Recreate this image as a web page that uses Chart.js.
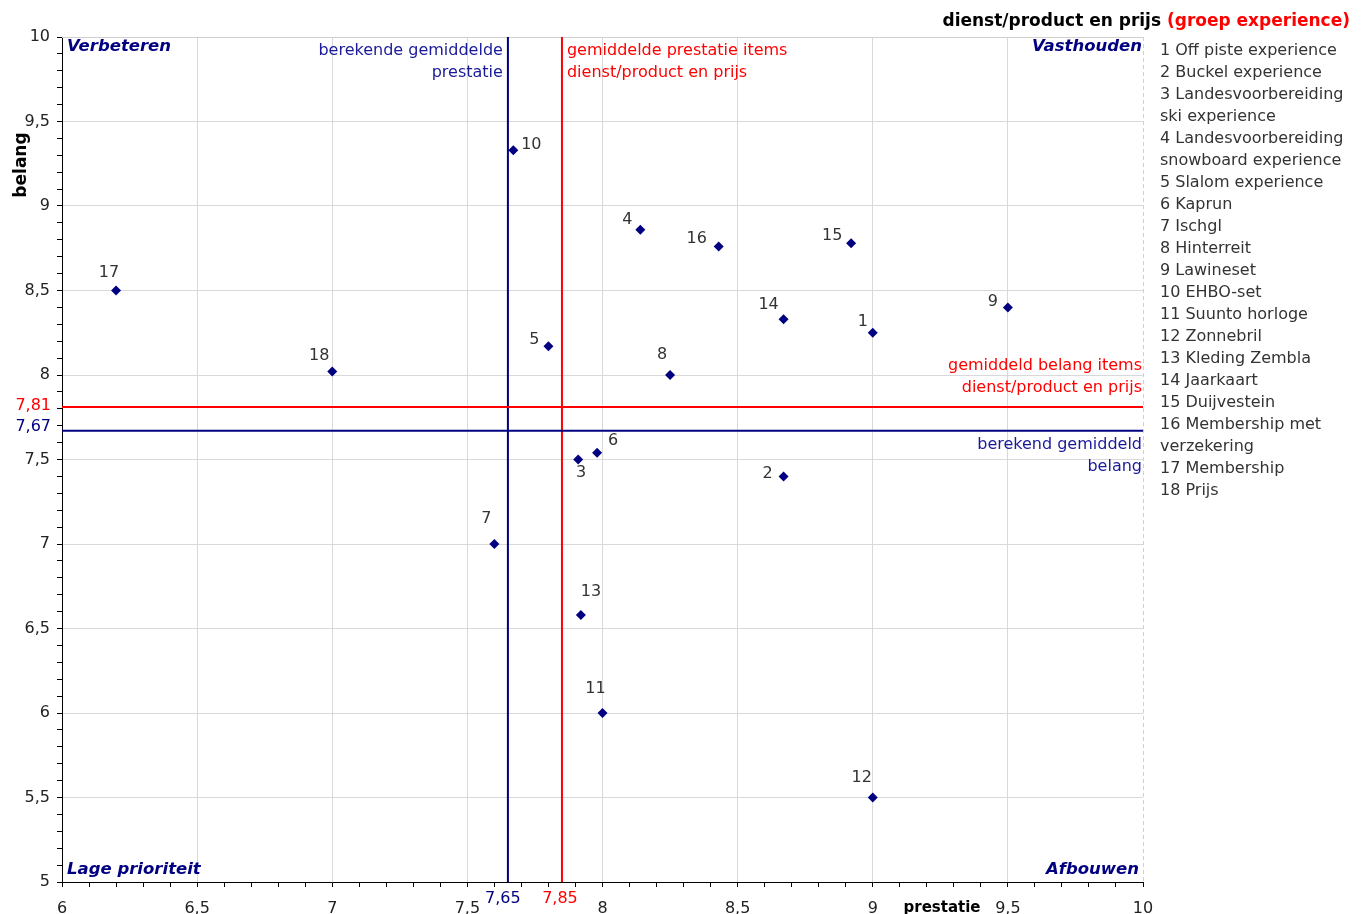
<!DOCTYPE html>
<html>
<head>
<meta charset="utf-8">
<script src="https://cdn.jsdelivr.net/npm/chart.js@4/dist/chart.umd.min.js"></script>
<style>
  html, body { margin: 0; padding: 0; background: #fff; }
  #wrap { width: 1363px; height: 914px; }
</style>
</head>
<body>
<div id="wrap"><canvas id="chart" width="1363" height="914"></canvas></div>
<script>
// items (dienst/product en prijs, groep experience)
const itemNrs = [1, 2, 3, 4, 5, 6, 7, 8, 9, 10, 11, 12, 13, 14, 15, 16, 17, 18];
const itemNames = [
    'Off piste experience', 'Buckel experience', 'Landesvoorbereiding ski experience',
    'Landesvoorbereiding snowboard experience', 'Slalom experience', 'Kaprun', 'Ischgl',
    'Hinterreit', 'Lawineset', 'EHBO-set', 'Suunto horloge', 'Zonnebril', 'Kleding Zembla',
    'Jaarkaart', 'Duijvestein', 'Membership met verzekering', 'Membership', 'Prijs'
];
const prestatie = [9.0, 8.67, 7.91, 8.14, 7.8, 7.98, 7.6, 8.25, 9.5, 7.67, 8.0, 9.0, 7.92, 8.67, 8.92, 8.43, 6.2, 7.0];
const belang = [8.25, 7.4, 7.5, 8.86, 8.17, 7.54, 7.0, 8.0, 8.4, 9.33, 6.0, 5.5, 6.58, 8.33, 8.78, 8.76, 8.5, 8.02];

// gemiddelden
const berekendPrestatie = 7.65;
const gemPrestatieItems = 7.85;
const berekendBelang = 7.67;
const gemBelangItems = 7.81;

// assen
const xMin = 6, xMax = 10;
const yMin = 5, yMax = 10;

// label offsets (px) t.o.v. het punt
const labelOffsets = [
    [-10, -11], [-16, -3], [3, 13], [-13, -10], [-14, -6], [16, -12], [-8, -25], [-8, -20], [-15, -6],
    [18, -5], [-7, -24], [-11, -20], [10, -23], [-15, -14], [-19, -7], [-22, -8], [-7, -18], [-13, -16]
];

const FONT = '"DejaVu Sans", sans-serif';
const NAVY = '#000080';
const RED = '#ff0000';

const isMajor = v => Math.abs(v * 2 - Math.round(v * 2)) < 1e-6;
const fmt = v => String(Math.round(v * 10) / 10).replace('.', ',');
const fmt2 = v => v.toFixed(2).replace('.', ',');

function txt(ctx, s, x, y, opts) {
    ctx.save();
    ctx.font = opts.font;
    ctx.fillStyle = opts.color;
    ctx.textAlign = opts.align || 'left';
    ctx.textBaseline = 'middle';
    ctx.fillText(s, x, y);
    ctx.restore();
}

const overlay = {
    id: 'overlay',
    beforeDatasetsDraw(chart) {
        const ctx = chart.ctx, a = chart.chartArea;
        const xs = chart.scales.x, ys = chart.scales.y;
        ctx.save();
        // top + right border
        ctx.strokeStyle = '#d0d0d0';
        ctx.lineWidth = 1;
        ctx.beginPath();
        ctx.moveTo(a.left, a.top + 0.5);
        ctx.lineTo(a.right, a.top + 0.5);
        ctx.stroke();
        ctx.setLineDash([4, 3]);
        ctx.beginPath();
        ctx.moveTo(a.right + 0.5, a.top);
        ctx.lineTo(a.right + 0.5, a.bottom);
        ctx.stroke();
        ctx.setLineDash([]);

        ctx.lineWidth = 2;
        const vline = (v, c) => {
            const px = xs.getPixelForValue(v);
            ctx.strokeStyle = c;
            ctx.beginPath(); ctx.moveTo(px, a.top); ctx.lineTo(px, a.bottom); ctx.stroke();
        };
        const hline = (v, c) => {
            const py = ys.getPixelForValue(v);
            ctx.strokeStyle = c;
            ctx.beginPath(); ctx.moveTo(a.left, py); ctx.lineTo(a.right, py); ctx.stroke();
        };
        vline(berekendPrestatie, NAVY);
        vline(gemPrestatieItems, RED);
        hline(berekendBelang, NAVY);
        hline(gemBelangItems, RED);
        ctx.restore();
    },
    afterDatasetsDraw(chart) {
        const ctx = chart.ctx, a = chart.chartArea;
        const xs = chart.scales.x, ys = chart.scales.y;
        const meta = chart.getDatasetMeta(0);
        const small = '16px ' + FONT;

        // punt labels
        meta.data.forEach((pt, i) => {
            const o = labelOffsets[i];
            txt(ctx, String(itemNrs[i]), pt.x + o[0], pt.y + o[1], { font: small, color: '#333', align: 'center' });
        });

        // kwadranten
        const q = 'italic bold 16.5px ' + FONT;
        txt(ctx, 'Verbeteren', a.left + 5, a.top + 10, { font: q, color: NAVY });
        txt(ctx, 'Vasthouden', a.right - 1, a.top + 10, { font: q, color: NAVY, align: 'right' });
        txt(ctx, 'Lage prioriteit', a.left + 5, a.bottom - 12, { font: q, color: NAVY });
        txt(ctx, 'Afbouwen', a.right - 4, a.bottom - 12, { font: q, color: NAVY, align: 'right' });

        // lijn teksten
        const bx = xs.getPixelForValue(berekendPrestatie);
        const rx = xs.getPixelForValue(gemPrestatieItems);
        txt(ctx, 'berekende gemiddelde', bx - 5, a.top + 14, { font: small, color: '#1a1a99', align: 'right' });
        txt(ctx, 'prestatie', bx - 5, a.top + 36, { font: small, color: '#1a1a99', align: 'right' });
        txt(ctx, 'gemiddelde prestatie items', rx + 5, a.top + 14, { font: small, color: RED });
        txt(ctx, 'dienst/product en prijs', rx + 5, a.top + 36, { font: small, color: RED });

        const ry = ys.getPixelForValue(gemBelangItems);
        const by = ys.getPixelForValue(berekendBelang);
        txt(ctx, 'gemiddeld belang items', a.right - 1, ry - 41, { font: small, color: RED, align: 'right' });
        txt(ctx, 'dienst/product en prijs', a.right - 1, ry - 19, { font: small, color: RED, align: 'right' });
        txt(ctx, 'berekend gemiddeld', a.right - 1, by + 14, { font: small, color: '#1a1a99', align: 'right' });
        txt(ctx, 'belang', a.right - 1, by + 36, { font: small, color: '#1a1a99', align: 'right' });

        // extra as labels
        txt(ctx, fmt2(berekendPrestatie), bx - 5, a.bottom + 17, { font: small, color: NAVY, align: 'center' });
        txt(ctx, fmt2(gemPrestatieItems), rx - 2, a.bottom + 17, { font: small, color: RED, align: 'center' });
        txt(ctx, fmt2(gemBelangItems), a.left - 11, ry - 1, { font: small, color: RED, align: 'right' });
        txt(ctx, fmt2(berekendBelang), a.left - 11, by - 4, { font: small, color: NAVY, align: 'right' });

        // as titels
        txt(ctx, 'prestatie', 942, a.bottom + 26, { font: 'bold 15px ' + FONT, color: '#000', align: 'center' });
        ctx.save();
        ctx.translate(22, 165);
        ctx.rotate(-Math.PI / 2);
        txt(ctx, 'belang', 0, 0, { font: 'bold 17px ' + FONT, color: '#000', align: 'center' });
        ctx.restore();

        // titel
        ctx.save();
        ctx.font = 'bold 17px ' + FONT;
        const t1 = 'dienst/product en prijs ', t2 = '(groep experience)';
        const w2 = ctx.measureText(t2).width;
        txt(ctx, t2, 1350, 22, { font: ctx.font, color: RED, align: 'right' });
        txt(ctx, t1, 1350 - w2, 22, { font: ctx.font, color: '#000', align: 'right' });
        ctx.restore();

        // legenda
        ctx.save();
        ctx.font = small;
        const lx = 1160, maxW = chart.width - lx - 4;
        let ly = 51;
        itemNames.forEach((name, i) => {
            const words = (itemNrs[i] + ' ' + name).split(' ');
            let line = '';
            words.forEach(w => {
                const test = line ? line + ' ' + w : w;
                if (line && ctx.measureText(test).width > maxW) {
                    txt(ctx, line, lx, ly, { font: small, color: '#333' });
                    ly += 22;
                    line = w;
                } else {
                    line = test;
                }
            });
            txt(ctx, line, lx, ly, { font: small, color: '#333' });
            ly += 22;
        });
        ctx.restore();
    }
};

new Chart(document.getElementById('chart'), {
    type: 'scatter',
    data: {
        datasets: [{
            data: prestatie.map((x, i) => ({ x: x, y: belang[i] })),
            pointStyle: 'rectRot',
            pointRadius: 5,
            pointHoverRadius: 5,
            backgroundColor: NAVY,
            borderColor: NAVY,
            borderWidth: 0
        }]
    },
    options: {
        responsive: false,
        devicePixelRatio: 1,
        animation: false,
        events: [],
        layout: { padding: { left: 0, top: 37, right: 220, bottom: 0 } },
        plugins: { legend: { display: false }, tooltip: { enabled: false } },
        scales: {
            x: {
                type: 'linear',
                min: xMin,
                max: xMax,
                afterFit: s => { s.height = 32; },
                ticks: {
                    stepSize: 0.1,
                    autoSkip: false,
                    maxRotation: 0,
                    padding: 12,
                    color: '#222',
                    font: { family: FONT, size: 16 },
                    callback: v => isMajor(v) ? fmt(v) : ''
                },
                grid: {
                    color: c => (c.tick && isMajor(c.tick.value) && c.tick.value < xMax - 1e-6) ? '#d9d9d9' : 'rgba(0,0,0,0)',
                    tickColor: '#000',
                    tickLength: 5,
                    lineWidth: 1
                },
                border: { color: '#000', width: 1 }
            },
            y: {
                type: 'linear',
                min: yMin,
                max: yMax,
                afterFit: s => { s.width = 62; },
                ticks: {
                    stepSize: 0.1,
                    autoSkip: false,
                    padding: 7,
                    color: '#222',
                    font: { family: FONT, size: 16 },
                    callback: v => isMajor(v) ? fmt(v) : ''
                },
                grid: {
                    color: c => (c.tick && isMajor(c.tick.value) && c.tick.value < yMax - 1e-6) ? '#d9d9d9' : 'rgba(0,0,0,0)',
                    tickColor: '#000',
                    tickLength: 5,
                    lineWidth: 1
                },
                border: { color: '#000', width: 1 }
            }
        }
    },
    plugins: [overlay]
});
</script>
</body>
</html>
